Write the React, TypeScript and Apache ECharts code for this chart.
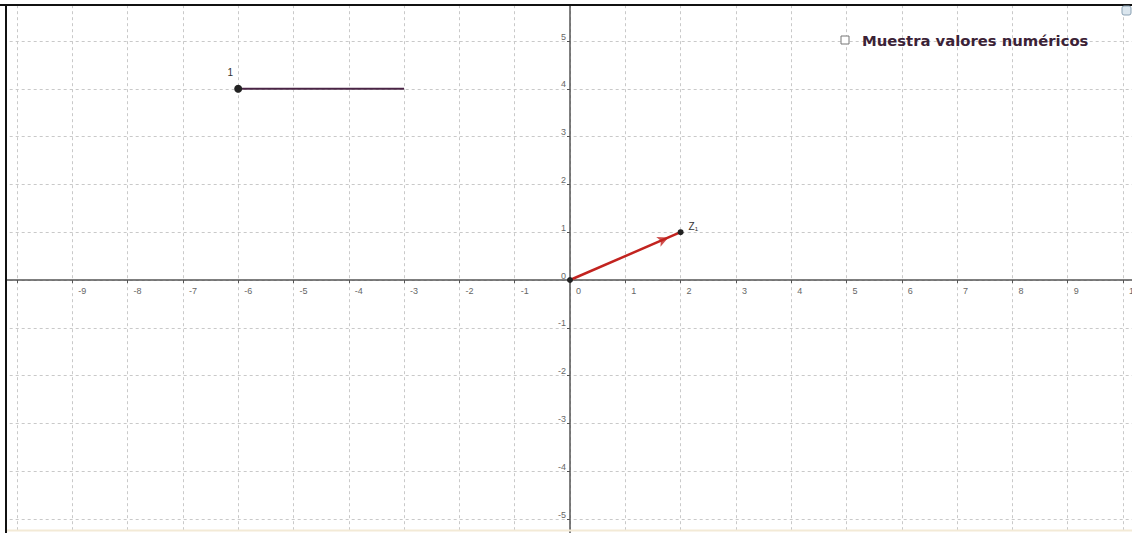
import React, { useEffect, useRef } from "react";
import * as echarts from "echarts";

const xRange = [-11, 11];
const yRange = [-6, 6];
const hiddenXLabels = [-11, -10, 11];
const hiddenYLabels = [-6, 6];
const segment = [[-6, 4], [-3, 4]];
const segmentLabel = "1";
const vector = [[0, 0], [2, 1]];
const vectorLabel = "Z₁";
const arrowHead = [[1.78, 0.89]];
const checkboxText = "Muestra valores numéricos";

// pixel layout of the plane
const X0 = 570, Y0 = 280, UX = 55.3, UY = 47.8;

export default function App() {
  const ref = useRef<HTMLDivElement>(null);
  useEffect(() => {
    const chart = echarts.init(ref.current!, null, { renderer: "svg" });
    const left = X0 + xRange[0] * UX;
    const width = (xRange[1] - xRange[0]) * UX;
    const top = Y0 - yRange[1] * UY;
    const height = (yRange[1] - yRange[0]) * UY;
    const gridLine = { show: true, lineStyle: { color: "#c9c9c9", type: [3, 3], width: 1 } };
    const angle = (Math.atan2((vector[1][1] - vector[0][1]) * UY, (vector[1][0] - vector[0][0]) * UX) * 180) / Math.PI;
    const baseX = { type: "value", min: xRange[0], max: xRange[1], interval: 1 };
    const baseY = { type: "value", min: yRange[0], max: yRange[1], interval: 1 };
    chart.setOption({
      animation: false,
      backgroundColor: "#ffffff",
      grid: { left, top, width, height, containLabel: false, outerBoundsMode: "none" },
      xAxis: [
        {
          ...baseX,
          axisLine: { onZero: true, lineStyle: { color: "#555", width: 1.5 } },
          axisTick: { show: true, length: 3, lineStyle: { color: "#555" } },
          axisLabel: { show: false },
          splitLine: gridLine,
        },
        {
          ...baseX, position: "bottom", offset: -(top + height - Y0),
          axisLine: { show: false, onZero: false }, axisTick: { show: false }, splitLine: { show: false },
          axisLabel: {
            fontSize: 9, color: "#666", fontFamily: "Liberation Sans", align: "left", margin: 6,
            padding: [0, 0, 0, 6],
            formatter: (v: number) => (hiddenXLabels.includes(v) ? "" : String(v)),
          },
        },
      ],
      yAxis: [
        {
          ...baseY,
          axisLine: { onZero: true, lineStyle: { color: "#555", width: 1.5 } },
          axisTick: { show: true, length: 3, lineStyle: { color: "#555" } },
          axisLabel: { show: false },
          splitLine: gridLine,
        },
        {
          ...baseY, position: "left", offset: -(X0 - left),
          axisLine: { show: false, onZero: false }, axisTick: { show: false }, splitLine: { show: false },
          axisLabel: {
            fontSize: 9, color: "#666", fontFamily: "Liberation Sans", verticalAlign: "bottom", margin: 4,
            formatter: (v: number) => (hiddenYLabels.includes(v) ? "" : String(v)),
          },
        },
      ],
      series: [
        {
          type: "line", data: segment.map((p, i) => ({
            value: p,
            symbol: i === 0 ? "circle" : "none",
            symbolSize: 8,
            label: i === 0 ? { show: true, formatter: segmentLabel, position: "top", offset: [-8, -2], fontSize: 10, color: "#333", fontFamily: "Liberation Sans" } : { show: false },
          })),
          lineStyle: { color: "#4a2445", width: 2 },
          itemStyle: { color: "#222" },
          z: 5,
        },
        {
          type: "line", data: vector.map((p, i) => ({
            value: p,
            label: i === 1 ? { show: true, formatter: vectorLabel, position: "right", offset: [0, -6], fontSize: 10, color: "#333", fontFamily: "Liberation Sans" } : { show: false },
          })),
          symbol: "circle", symbolSize: 6,
          lineStyle: { color: "#c2231f", width: 2.5 },
          itemStyle: { color: "#222" },
          z: 6,
        },
        {
          type: "scatter", data: arrowHead, symbol: "arrow", symbolSize: [8, 11],
          symbolRotate: angle - 90,
          itemStyle: { color: "#c2231f" }, z: 7,
        },
      ],
      graphic: [
        { type: "rect", shape: { x: 0, y: 0, width: 1132, height: 4 }, style: { fill: "#fff" }, z: 100 },
        { type: "rect", shape: { x: 0, y: 0, width: 5, height: 533 }, style: { fill: "#fff" }, z: 100 },
        { type: "line", shape: { x1: 0, y1: 5, x2: 1132, y2: 5 }, style: { stroke: "#111", lineWidth: 2 }, z: 101 },
        { type: "line", shape: { x1: 6, y1: 4, x2: 6, y2: 533 }, style: { stroke: "#111", lineWidth: 2 }, z: 101 },
        { type: "line", shape: { x1: 7, y1: 530.5, x2: 1132, y2: 530.5 }, style: { stroke: "#f3ead6", lineWidth: 2 }, z: 101 },
        { type: "rect", shape: { x: 841, y: 36, width: 8, height: 8 }, style: { fill: "#fff", stroke: "#777", lineWidth: 1 }, z: 101 },
        {
          type: "text", x: 862, y: 40, z: 101,
          style: { text: checkboxText, fontSize: 14.8, fontWeight: "bold", fill: "#3b2236", fontFamily: "DejaVu Sans", verticalAlign: "middle" },
        },
        { type: "rect", shape: { x: 1122, y: 6, width: 9, height: 9, r: 2 }, style: { fill: "#dbe6ee", stroke: "#8aa1b3", lineWidth: 1 }, z: 101 },
      ],
    });
    return () => chart.dispose();
  }, []);
  return <div ref={ref} style={{ position: "fixed", left: 0, top: 0, width: 1132, height: 533 }} />;
}
